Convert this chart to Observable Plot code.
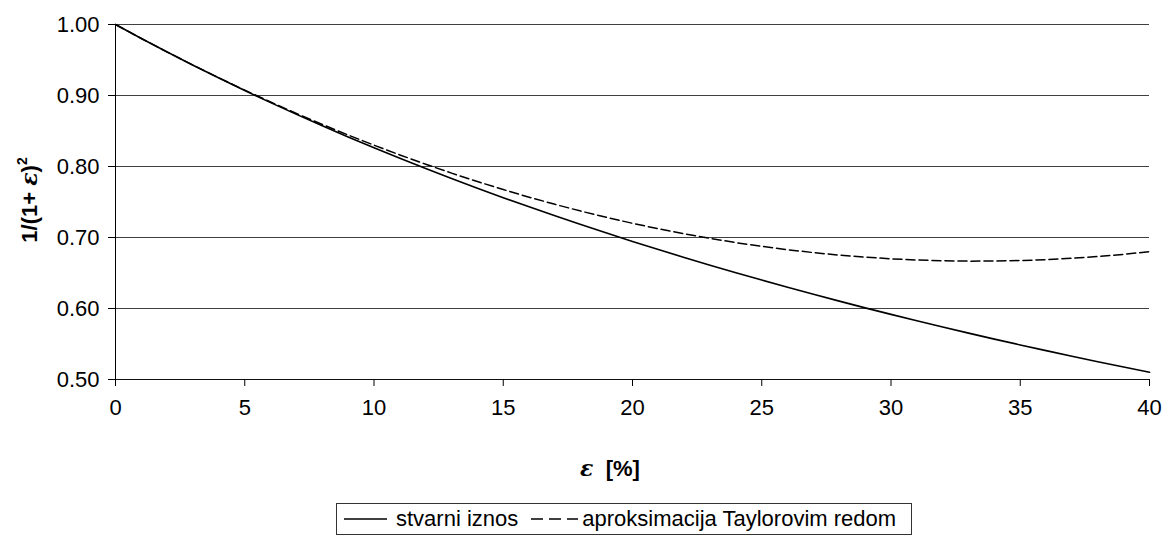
<!DOCTYPE html>
<html>
<head>
<meta charset="utf-8">
<script src="https://cdn.jsdelivr.net/npm/d3@7"></script>
<script src="https://cdn.jsdelivr.net/npm/@observablehq/plot@0.6"></script>
<style>
  html, body { margin: 0; padding: 0; background: #fff; }
  body { width: 1173px; height: 536px; position: relative; overflow: hidden; font-family: "Liberation Sans", Arial, sans-serif; }
  #chart { position: absolute; left: 0; top: 0; }
  #legend { position: absolute; left: 336px; top: 503px; width: 574px; height: 30px; border: 1px solid #333;
            display: flex; align-items: center; font-size: 22px; color: #000; white-space: nowrap; box-sizing: content-box; }
  #legend svg { display: block; }
  .item { display: flex; align-items: center; }
</style>
</head>
<body>
<div id="chart"></div>
<div id="legend"></div>
<script>
// ε in percent
const eps = [0,1,2,3,4,5,6,7,8,9,10,11,12,13,14,15,16,17,18,19,20,21,22,23,24,25,26,27,28,29,30,31,32,33,34,35,36,37,38,39,40];
// stvarni iznos
const actual = [1.0000,0.9803,0.9612,0.9426,0.9246,0.9070,0.8900,0.8734,0.8573,0.8417,0.8264,0.8116,0.7972,0.7831,0.7695,0.7561,0.7432,0.7305,0.7182,0.7062,0.6944,0.6830,0.6719,0.6610,0.6504,0.6400,0.6299,0.6200,0.6104,0.6009,0.5917,0.5827,0.5739,0.5653,0.5569,0.5487,0.5407,0.5328,0.5251,0.5176,0.5102];
// aproksimacija Taylorovim redom
const taylor = [1.0000,0.9803,0.9612,0.9427,0.9248,0.9075,0.8908,0.8747,0.8592,0.8443,0.8300,0.8163,0.8032,0.7907,0.7788,0.7675,0.7568,0.7467,0.7372,0.7283,0.7200,0.7123,0.7052,0.6987,0.6928,0.6875,0.6828,0.6787,0.6752,0.6723,0.6700,0.6683,0.6672,0.6667,0.6668,0.6675,0.6688,0.6707,0.6732,0.6763,0.6800];
const xTicks = [0,5,10,15,20,25,30,35,40];
const yTicks = [0.5,0.6,0.7,0.8,0.9,1.0];
const seriesNames = ["stvarni iznos", "aproksimacija Taylorovim redom"];

const actualData = eps.map((e, i) => ({x: e, y: actual[i]}));
const taylorData = eps.map((e, i) => ({x: e, y: taylor[i]}));

const chart = Plot.plot({
  width: 1173,
  height: 500,
  marginTop: 24,
  marginLeft: 115,
  marginRight: 24,
  marginBottom: 121,
  style: {fontFamily: "'Liberation Sans', Arial, sans-serif", fontSize: "22px", color: "#000", background: "#fff"},
  x: {domain: [0, 40], ticks: xTicks, tickFormat: d => String(d), label: null},
  y: {domain: [0.5, 1.0], ticks: yTicks, tickFormat: d => d.toFixed(2), label: null},
  marks: [
    Plot.gridY(yTicks, {stroke: "#000", strokeOpacity: 0.75, strokeWidth: 1.2}),
    Plot.axisX({ticks: xTicks, tickSize: 7, tickPadding: 13, fontSize: 22, stroke: "#000", tickFormat: d => String(d)}),
    Plot.axisY({ticks: yTicks, tickSize: 7, tickPadding: 9, fontSize: 22, stroke: "#000", tickFormat: d => d.toFixed(2)}),
    Plot.ruleY([0.5], {stroke: "#000", strokeOpacity: 0.75, strokeWidth: 1.2}),
    Plot.ruleX([0], {stroke: "#000", strokeWidth: 1}),
    Plot.line(taylorData, {x: "x", y: "y", stroke: "#000", strokeWidth: 1.5, strokeDasharray: "9,4", curve: "linear"}),
    Plot.line(actualData, {x: "x", y: "y", stroke: "#000", strokeWidth: 1.6, curve: "linear"})
  ]
});
document.getElementById("chart").appendChild(chart);

const svg = d3.select(chart);
// make sure tick labels use the reference's size
svg.selectAll('g[aria-label$="tick label"]').attr("font-size", 22).style("font-size", "22px");

// axis titles with italic epsilon and superscript
const yt = svg.append("text")
  .attr("transform", "translate(37,200) rotate(-90)")
  .attr("text-anchor", "middle")
  .attr("font-size", 22).attr("font-weight", "bold").attr("fill", "#000");
yt.append("tspan").text("1/(1+ ");
yt.append("tspan").attr("font-style", "italic").attr("font-family", "'DejaVu Serif', serif").text("ε");
yt.append("tspan").text(")");
yt.append("tspan").attr("font-size", 14).attr("dy", -10).text("2");

const xt = svg.append("text")
  .attr("x", 610).attr("y", 476)
  .attr("text-anchor", "middle")
  .attr("font-size", 22).attr("font-weight", "bold").attr("fill", "#000");
xt.append("tspan").attr("font-style", "italic").attr("font-family", "'DejaVu Serif', serif").text("ε");
xt.append("tspan").text("  [%]");

// legend
const legend = d3.select("#legend");
const items = [
  {name: seriesNames[0], dash: null, ml: 7, w: 43, gap: 9},
  {name: seriesNames[1], dash: "12,6", ml: 13, w: 47, gap: 4}
];
items.forEach((it) => {
  const d = legend.append("div").attr("class", "item").style("margin-left", it.ml + "px");
  const s = d.append("svg").attr("width", it.w).attr("height", 10);
  s.append("line").attr("x1", 0).attr("x2", it.w).attr("y1", 5).attr("y2", 5)
    .attr("stroke", "#000").attr("stroke-width", 1.5).attr("stroke-dasharray", it.dash);
  d.append("span").style("margin-left", it.gap + "px").text(it.name);
});
</script>
</body>
</html>
